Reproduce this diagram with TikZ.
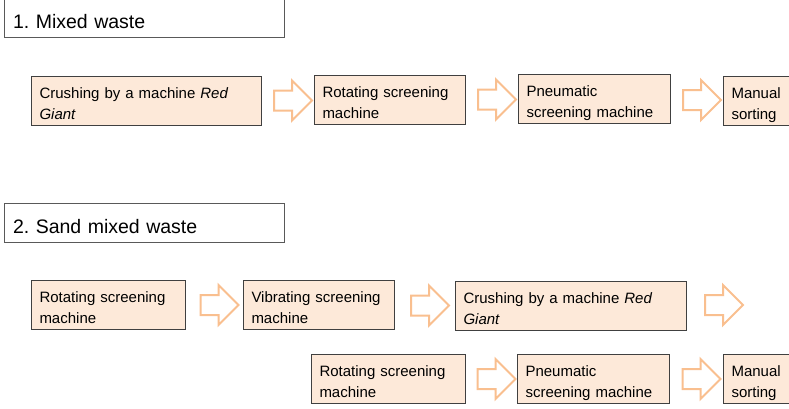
\documentclass[tikz,border=0pt]{standalone}
\usepackage{fontspec}
\setmainfont{Liberation Sans}
\usetikzlibrary{shapes.arrows, calc}
\definecolor{boxFill}{HTML}{FDE9D9}
\definecolor{boxLine}{HTML}{404040}
\definecolor{headLine}{HTML}{595959}
\definecolor{arrowLine}{HTML}{F9BF8F}
\frenchspacing
\tikzset{
  headBox/.style={rectangle, draw=headLine, line width=1pt, fill=white,
                  anchor=north west, align=left, text width=263pt,
                  inner xsep=8.5pt, inner ysep=0pt, text height=29.5pt, text depth=9.5pt,
                  font=\fontsize{19.5}{23}\selectfont},
  stepBox/.style={rectangle, draw=boxLine, line width=1pt, fill=boxFill,
                  anchor=north west, align=left, inner xsep=8pt, inner ysep=0pt,
                  text height=21.5pt, text depth=27.5pt,
                  font=\fontsize{15}{21.7}\selectfont},
  flowArrow/.style={single arrow, draw=arrowLine, fill=white, line width=2pt,
                    minimum height=38pt, minimum width=38pt, inner sep=9pt,
                    single arrow head extend=10pt},
}
\begin{document}
\begin{tikzpicture}[x=1pt, y=-1pt]
    \clip (0,0) rectangle (789,408);

    % 1. mixed waste
    \node[headBox] (h1) at (4,-2) {1. Mixed waste};
    \node[stepBox, text width=214pt] (c1) at (31,76) {Crushing by a machine \textit{Red}\\\textit{Giant}};
    \node[stepBox, text width=135pt] (r1) at (314,75) {Rotating screening\\machine};
    \node[stepBox, text width=136pt] (p1) at (518,74) {Pneumatic\\screening machine};
    \node[stepBox, text width=74pt] (m1) at (723,76) {Manual\\sorting};
    \node[flowArrow] (a1) at ($(c1.east)!0.5!(r1.west)$) {};
    \node[flowArrow] (a2) at ($(r1.east)!0.5!(p1.west)$) {};
    \node[flowArrow] (a3) at ($(p1.east)!0.5!(m1.west)$) {};

    % 2. sand mixed waste
    \node[headBox] (h2) at (4,203) {2. Sand mixed waste};
    \node[stepBox, text width=138pt] (r2) at (31,280) {Rotating screening\\machine};
    \node[stepBox, text width=135pt] (v2) at (243,280) {Vibrating screening\\machine};
    \node[stepBox, text width=215pt] (c2) at (455,281) {Crushing by a machine \textit{Red}\\\textit{Giant}};
    \node[flowArrow] (a4) at ($(r2.east)!0.5!(v2.west)$) {};
    \node[flowArrow] (a5) at ($(v2.east)!0.5!(c2.west)$) {};
    \node[flowArrow] (a6) at (719,305) {};

    % second line of the sand flow
    \node[stepBox, text width=138pt] (r3) at (311,354) {Rotating screening\\machine};
    \node[stepBox, text width=136pt] (p3) at (517,354) {Pneumatic\\screening machine};
    \node[stepBox, text width=74pt] (m3) at (723,354) {Manual\\sorting};
    \node[flowArrow] (a7) at ($(r3.east)!0.5!(p3.west)$) {};
    \node[flowArrow] (a8) at ($(p3.east)!0.5!(m3.west)$) {};
\end{tikzpicture}
\end{document}
